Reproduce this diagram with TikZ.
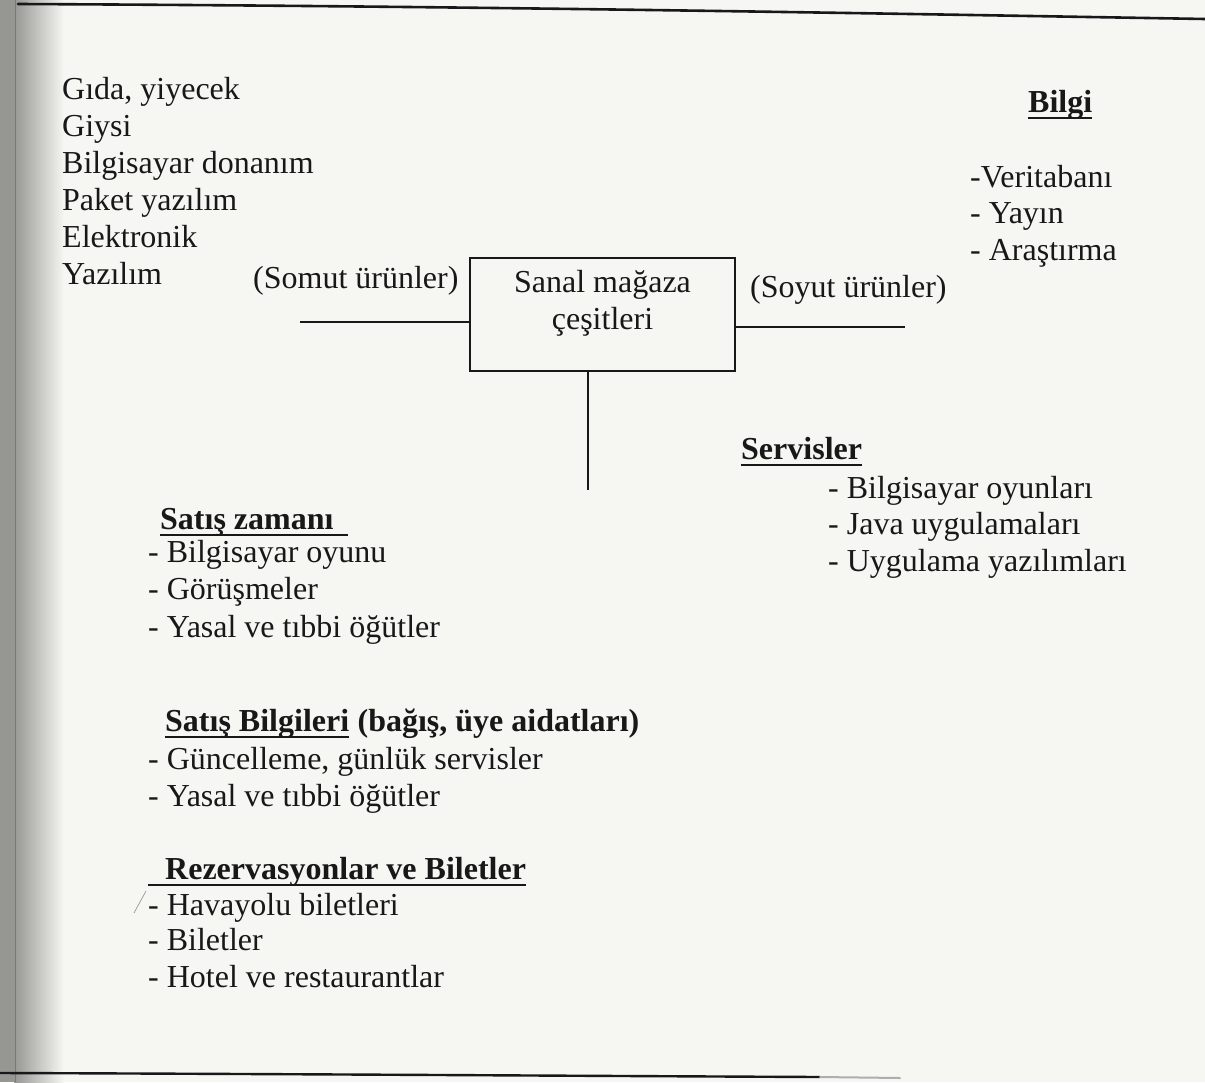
\documentclass[tikz,border=0pt]{standalone}
\usepackage{fontspec}
\setmainfont{Liberation Serif}
\definecolor{paper}{RGB}{246,247,243}
\definecolor{ink}{RGB}{24,24,24}
\definecolor{edge}{RGB}{150,150,146}
\tikzset{
  txt/.style={anchor=base west, inner sep=0pt, text=ink, font=\fontsize{32}{37}\selectfont},
  head/.style={txt, font=\fontsize{32}{37}\selectfont\bfseries},
  rule/.style={draw=ink, line width=1.8pt},
  ul/.style={draw=ink, line width=1.7pt},
  pageline/.style={draw=ink, line width=2.6pt, line cap=round},
}
\begin{document}
\begin{tikzpicture}[x=1pt, y=-1pt]
  % page and scanner edge
  \fill[paper] (0,0) rectangle (1205,1082);
  \useasboundingbox (0,0) rectangle (1205,1082);
  \shade[left color=edge, right color=paper] (14,0) rectangle (64,1082);
  \fill[edge] (0,0) rectangle (14,1082);
  \draw[edge!80!black, line width=0.8pt] (15,0) -- (15,1082);

  % top and bottom rules of the page
  \draw[pageline] (18,4) .. controls (450,6) and (800,12) .. (1205,19);
  \draw[pageline, line width=2.4pt] (0,1073) .. controls (300,1074) and (600,1076) .. (820,1077);
  \draw[pageline, draw=ink!35, line width=2pt] (820,1077) -- (900,1078);

  % central box
  \node[draw=ink, line width=1.8pt, minimum width=265pt, minimum height=113pt, inner sep=0pt]
    (store) at (602.5,314.5) {};
  \node[txt, anchor=base, align=center] (storetop) at (602.5,292) {Sanal mağaza};
  \node[txt, anchor=base, align=center] (storebot) at (602.5,329) {çeşitleri};

  % connectors
  \coordinate (somutend) at (300,322);
  \coordinate (soyutend) at (905,327);
  \coordinate (downend) at (588,490);
  \draw[rule] (somutend) -- (somutend -| store.west);
  \draw[rule] (store.east |- soyutend) -- (soyutend);
  \draw[rule] (store.south -| downend) -- (downend);

  % concrete products
  \foreach \t [count=\i] in {{Gıda, yiyecek}, Giysi, Bilgisayar donanım,
                             Paket yazılım, Elektronik, Yazılım}
    \node[txt] (g\i) at (62,{99+37*(\i-1)}) {\t};
  \node[txt] (somut) at (253,288) {(Somut ürünler)};

  % intangible products
  \node[txt] (soyut) at (750,297) {(Soyut ürünler)};
  \node[head] (bilgi) at (1028,112) {Bilgi};
  \draw[ul] ([yshift=-6pt]bilgi.base west) -- ([yshift=-6pt]bilgi.base east);
  \node[txt] (b1) at (970,187) {-Veritabanı};
  \node[txt] (b2) at (970,223) {- Yayın};
  \node[txt] (b3) at (970,260) {- Araştırma};

  % services
  \node[head] (serv) at (741,459) {Servisler};
  \draw[ul] ([yshift=-6pt]serv.base west) -- ([yshift=-6pt]serv.base east);
  \node[txt] (s1) at (828,498) {- Bilgisayar oyunları};
  \node[txt] (s2) at (828,534) {- Java uygulamaları};
  \node[txt] (s3) at (828,571) {- Uygulama yazılımları};

  % sales time
  \node[head] (zaman) at (160,529) {Satış zamanı};
  \draw[ul] ([yshift=-6pt]zaman.base west) -- ([yshift=-6pt,xshift=14pt]zaman.base east);
  \node[txt] (z1) at (148,562) {- Bilgisayar oyunu};
  \node[txt] (z2) at (148,599) {- Görüşmeler};
  \node[txt] (z3) at (148,637) {- Yasal ve tıbbi öğütler};

  % sales information
  \node[head] (bilg) at (165,731) {Satış Bilgileri};
  \draw[ul] ([yshift=-6pt]bilg.base west) -- ([yshift=-6pt]bilg.base east);
  \node[head, anchor=base west] (bilgx) at ([xshift=8pt]bilg.base east) {(bağış, üye aidatları)};
  \node[txt] (i1) at (148,769) {- Güncelleme, günlük servisler};
  \node[txt] (i2) at (148,806) {- Yasal ve tıbbi öğütler};

  % reservations and tickets
  \node[head] (rez) at (165,879) {Rezervasyonlar ve Biletler};
  \draw[ul] ([yshift=-6pt,xshift=-17pt]rez.base west) -- ([yshift=-6pt]rez.base east);
  \node[txt] (r1) at (148,915) {- Havayolu biletleri};
  \node[txt] (r2) at (148,950) {- Biletler};
  \node[txt] (r3) at (148,987) {- Hotel ve restaurantlar};

  % pencil stroke beside the list
  \draw[ink!45, line width=0.7pt] (134,913) -- (146,891);
\end{tikzpicture}
\end{document}
